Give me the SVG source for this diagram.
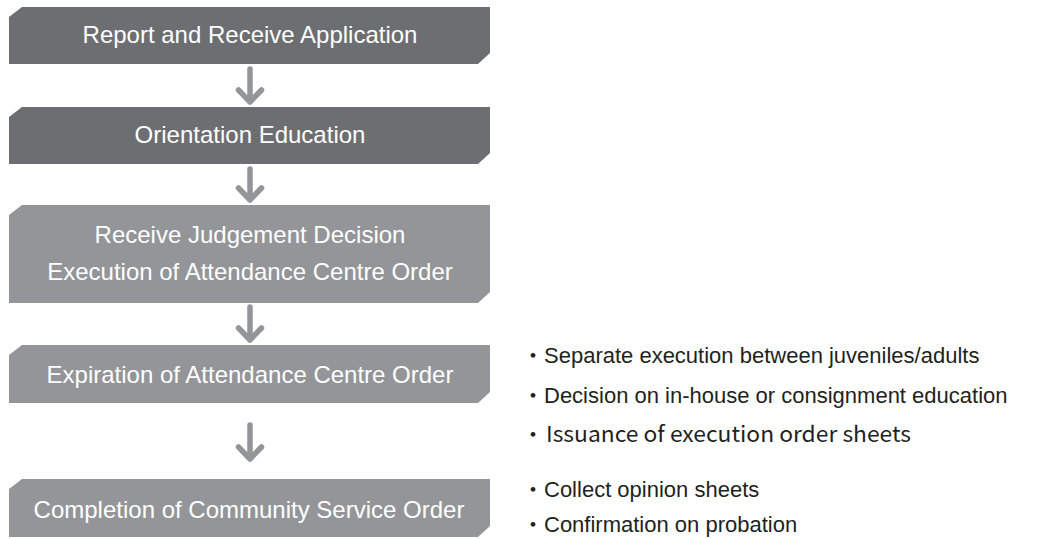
<svg xmlns="http://www.w3.org/2000/svg" width="1042" height="539" viewBox="0 0 1042 539">
  <style>
    .box-dark { fill: #6d6e71; }
    .box-light { fill: #939598; }
    .box-label { font-family: "Liberation Sans", Arial, sans-serif; font-size: 24px; fill: #ffffff; text-anchor: middle; }
    .note { font-family: "Liberation Sans", "Noto Sans CJK JP", sans-serif; font-size: 22px; fill: #231f20; }
    .note-alt { font-family: "Noto Sans CJK JP", "Noto Sans", sans-serif; font-size: 22px; fill: #231f20; }
    .conn { fill: none; stroke: #939598; stroke-width: 5.5; stroke-linecap: round; stroke-linejoin: round; }
  </style>
  <rect width="1042" height="539" fill="#ffffff"/>

  <!-- process steps: boxes with clipped top-left and bottom-right corners -->
  <g id="step-report">
    <path class="box-dark" d="M22 7 H490 V53 L478 64 H9 V17 Z"/>
    <text class="box-label" x="250" y="43">Report and Receive Application</text>
  </g>
  <g id="step-orientation">
    <path class="box-dark" d="M22 107 H490 V153 L478 164 H9 V117 Z"/>
    <text class="box-label" x="250" y="143">Orientation Education</text>
  </g>
  <g id="step-judgement">
    <path class="box-light" d="M22 205 H490 V292 L478 303 H9 V215 Z"/>
    <text class="box-label" x="250" y="243">Receive Judgement Decision</text>
    <text class="box-label" x="250" y="280">Execution of Attendance Centre Order</text>
  </g>
  <g id="step-expiration">
    <path class="box-light" d="M22 345 H490 V392 L478 403 H9 V355 Z"/>
    <text class="box-label" x="250" y="383">Expiration of Attendance Centre Order</text>
  </g>
  <g id="step-completion">
    <path class="box-light" d="M22 479 H490 V526 L478 537 H9 V489 Z"/>
    <text class="box-label" x="249" y="518">Completion of Community Service Order</text>
  </g>

  <!-- downward arrows between steps -->
  <g id="connectors">
    <path class="conn" d="M250 69 V101 M238.5 90 L250 102 L261.5 90"/>
    <path class="conn" d="M250 169 V199 M238.5 188 L250 200 L261.5 188"/>
    <path class="conn" d="M250 307 V339 M238.5 328 L250 340 L261.5 328"/>
    <path class="conn" d="M250 425 V458 M238.5 447 L250 459 L261.5 447"/>
  </g>

  <!-- notes beside the last steps -->
  <g id="notes">
    <text class="note" x="522" y="363">・Separate execution between juveniles/adults</text>
    <text class="note" x="522" y="403">・Decision on in-house or consignment education</text>
    <text class="note-alt" x="522" y="442"><tspan>・</tspan><tspan x="546" textLength="365" lengthAdjust="spacingAndGlyphs">Issuance of execution order sheets</tspan></text>
    <text class="note" x="522" y="497">・Collect opinion sheets</text>
    <text class="note" x="522" y="532">・Confirmation on probation</text>
  </g>
</svg>
